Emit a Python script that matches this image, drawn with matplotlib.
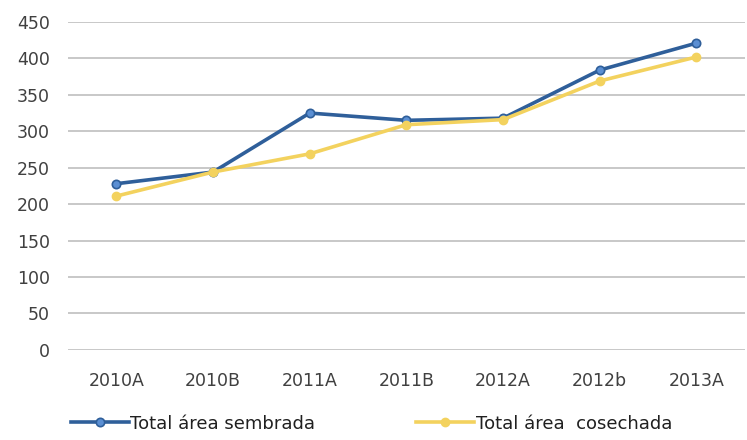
import numpy as np
import matplotlib
matplotlib.use('Agg')
import matplotlib.pyplot as plt

# data
periods = ['2010A', '2010B', '2011A', '2011B', '2012A', '2012b', '2013A']
sembrada = [228, 244, 325, 315, 318, 384, 421]
cosechada = [211, 244, 269, 309, 316, 369, 402]

blue = '#2F5F9A'
yellow = '#F3D25E'
txt = '#404040'

fig = plt.figure(figsize=(7.47, 4.40), dpi=100)
ax = fig.add_axes([0.091, 0.205, 0.906, 0.745])

x = np.arange(len(periods))
ax.plot(x, sembrada, color=blue, lw=2.6, marker='o', ms=6,
        mfc='#5B8FD3', mec=blue, mew=1.2, label='Total área sembrada', zorder=3)
ax.plot(x, cosechada, color=yellow, lw=2.6, marker='o', ms=6,
        mfc=yellow, mec=yellow, label='Total área  cosechada', zorder=4)

ax.set_xlim(-0.5, len(periods) - 0.5)
ax.set_ylim(0, 450)
ax.set_yticks(np.arange(0, 451, 50))
ax.set_xticks(x)
ax.set_xticklabels(periods)
ax.yaxis.grid(True, color='#BFBFBF', lw=1.2)
ax.set_axisbelow(True)
for s in ax.spines.values():
    s.set_visible(False)
ax.tick_params(length=0, labelsize=12.5, colors=txt)
ax.tick_params(axis='x', pad=16)
ax.tick_params(axis='y', pad=13)

fig.legend(loc='lower left', bbox_to_anchor=(0.073, -0.02), ncol=2, frameon=False,
           fontsize=13, handlelength=3.2, handletextpad=0.1, columnspacing=5.6,
           labelcolor='#202020')

fig.savefig('out.png', dpi=100)
